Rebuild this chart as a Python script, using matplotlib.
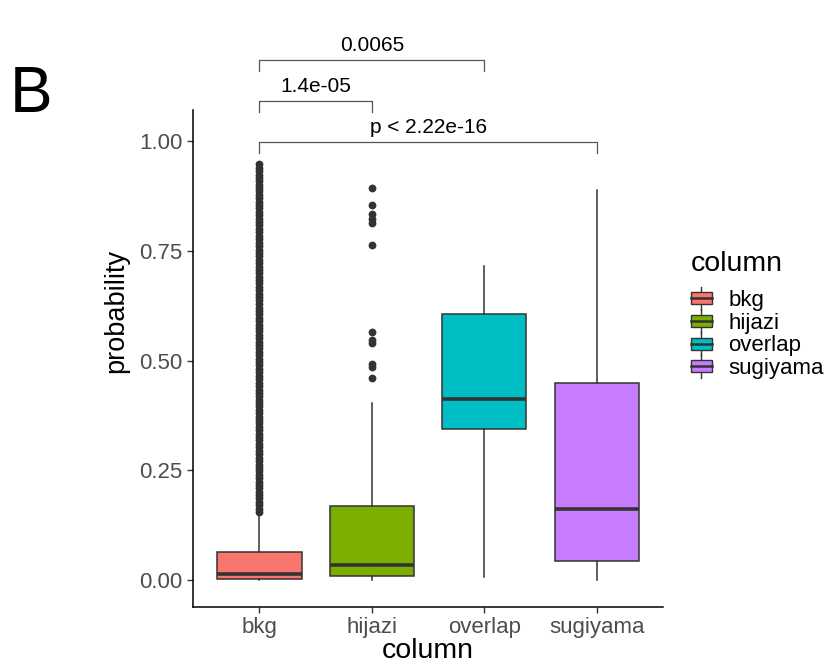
import matplotlib
matplotlib.use("Agg")
import matplotlib.pyplot as plt
from matplotlib.patches import Rectangle
from matplotlib.lines import Line2D
from matplotlib.legend_handler import HandlerBase

plt.rcParams['font.family'] = ['Liberation Sans', 'DejaVu Sans']

# data
groups = ["bkg", "hijazi", "overlap", "sugiyama"]
colors = ["#F8766D", "#7CAE00", "#00BFC4", "#C77CFF"]
q1 = [0.002, 0.009, 0.344, 0.043]
med = [0.014, 0.034, 0.412, 0.162]
q3 = [0.064, 0.168, 0.606, 0.449]
whislo = [0.0, 0.0, 0.007, 0.0]
whishi = [0.153, 0.403, 0.715, 0.888]

bkg_fliers = [0.155, 0.162, 0.170, 0.178, 0.186, 0.193, 0.201, 0.209, 0.217, 0.224,
              0.232, 0.240, 0.248, 0.256, 0.263, 0.271, 0.279, 0.287, 0.294, 0.302,
              0.310, 0.318, 0.326, 0.333, 0.341, 0.349, 0.357, 0.364, 0.372, 0.380,
              0.388, 0.396, 0.403, 0.411, 0.419, 0.427, 0.434, 0.442, 0.450, 0.458,
              0.466, 0.473, 0.481, 0.489, 0.497, 0.504, 0.512, 0.520, 0.528, 0.536,
              0.543, 0.551, 0.559, 0.567, 0.574, 0.582, 0.590, 0.598, 0.606, 0.613,
              0.621, 0.629, 0.637, 0.644, 0.652, 0.660, 0.668, 0.676, 0.683, 0.691,
              0.699, 0.707, 0.714, 0.722, 0.730, 0.738, 0.746, 0.753, 0.761, 0.769,
              0.777, 0.784, 0.792, 0.800, 0.808, 0.816, 0.823, 0.831, 0.839, 0.847,
              0.854, 0.862, 0.870, 0.878, 0.886, 0.893, 0.901, 0.909, 0.916, 0.924,
              0.931, 0.938, 0.947]
hijazi_fliers = [0.893, 0.854, 0.834, 0.822, 0.813, 0.763, 0.565, 0.548, 0.540,
                 0.492, 0.485, 0.460]
fliers = [bkg_fliers, hijazi_fliers, [], []]

# comparisons: (group a, group b, label)
comparisons = [(1, 4, "p < 2.22e-16"), (1, 2, "1.4e-05"), (1, 3, "0.0065")]
bracket_y = [0.998, 1.091, 1.184]

yticks = [0.0, 0.25, 0.5, 0.75, 1.0]
ytick_labels = ["0.00", "0.25", "0.50", "0.75", "1.00"]

edge = "#333333"


class BoxKey(HandlerBase):
    # ggplot-like boxplot legend key: whisker, box, median
    def create_artists(self, legend, orig_handle, xdescent, ydescent,
                       width, height, fontsize, trans):
        x0, y0 = -xdescent, -ydescent
        cx, cy = x0 + width / 2, y0 + height / 2
        bh = height * 0.6
        whisk = Line2D([cx, cx], [y0 - 0.1 * height, y0 + 1.1 * height],
                       color=edge, linewidth=1.0, transform=trans)
        box = Rectangle((x0, cy - bh / 2), width, bh, facecolor=orig_handle,
                        edgecolor=edge, linewidth=1.0, transform=trans)
        mline = Line2D([x0, x0 + width], [cy, cy], color=edge, linewidth=1.8,
                       transform=trans)
        return [whisk, box, mline]


fig = plt.figure(figsize=(8.32, 6.63), dpi=100)
ax = fig.add_axes([0.232, 0.0845, 0.565, 0.7495])

stats = []
for i, g in enumerate(groups):
    stats.append(dict(label=g, q1=q1[i], med=med[i], q3=q3[i],
                      whislo=whislo[i], whishi=whishi[i], fliers=fliers[i]))

bp = ax.bxp(stats, positions=[1, 2, 3, 4], widths=0.75, patch_artist=True,
            showcaps=False,
            boxprops=dict(edgecolor=edge, linewidth=1.1),
            whiskerprops=dict(color=edge, linewidth=1.1),
            medianprops=dict(color=edge, linewidth=2.6),
            flierprops=dict(marker="o", markerfacecolor=edge, markeredgecolor=edge,
                            markersize=4.6, linestyle="none"))
for patch, c in zip(bp["boxes"], colors):
    patch.set_facecolor(c)

ax.set_xlim(0.41, 4.59)
ax.set_ylim(-0.0615, 1.071)
ax.set_yticks(yticks)
ax.set_yticklabels(ytick_labels)
ax.set_xticks([1, 2, 3, 4])
ax.set_xticklabels(groups)
ax.tick_params(colors="#333333", labelcolor="#4D4D4D", labelsize=16, length=4, width=1)
for s in ["top", "right"]:
    ax.spines[s].set_visible(False)
for s in ["left", "bottom"]:
    ax.spines[s].set_linewidth(1.1)
ax.set_ylabel("probability", fontsize=19.5)
ax.yaxis.set_label_coords(-0.136, 0.596)
ax.set_xlabel("column", fontsize=20.5, labelpad=0)

# significance brackets
tick_h = 0.025
for (a, b, lab), yb in zip(comparisons, bracket_y):
    ax.plot([a, a, b, b], [yb - tick_h, yb, yb, yb - tick_h], color="#555555",
            linewidth=0.9, clip_on=False)
    ax.text((a + b) / 2, yb + 0.012, lab, ha="center", va="bottom", fontsize=15,
            color="black", clip_on=False)

fig.text(0.012, 0.857, "B", fontsize=46, ha="left", va="center")

leg = fig.legend(colors, groups, title="column", loc="upper left",
                 bbox_to_anchor=(0.806, 0.651), frameon=False, fontsize=16,
                 title_fontsize=20.5, handlelength=0.95, handleheight=1.0,
                 labelspacing=0.0, handletextpad=0.75,
                 handler_map={str: BoxKey()})
leg._legend_box.align = "left"
leg._legend_box.sep = 8

fig.savefig("out.png", dpi=100)
